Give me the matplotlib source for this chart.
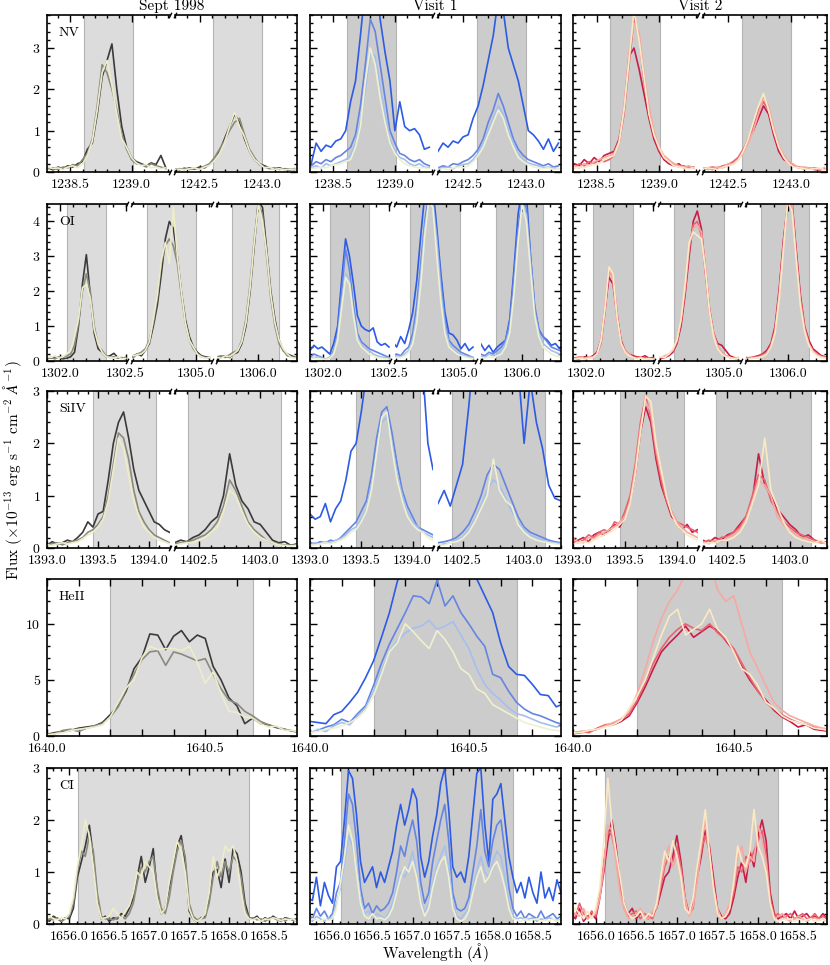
import numpy as np
import matplotlib
matplotlib.use("Agg")
import matplotlib.pyplot as plt
from matplotlib.ticker import MultipleLocator, FixedLocator, FormatStrFormatter

plt.rcParams["font.family"] = "serif"
plt.rcParams["font.serif"] = ["cmr10"]
plt.rcParams["mathtext.fontset"] = "cm"
plt.rcParams["axes.formatter.use_mathtext"] = True
plt.rcParams["font.size"] = 10

# ---- spectra (flux in 1e-13 erg/s/cm2/A) ----
# each ion/epoch: list over wavelength segments, each a list of series
NV_SEPT = [
    [[0.10,0.05,0.12,0.08,0.15,0.12,0.20,0.25,0.55,0.70,1.40,2.30,2.70,3.10,2.00,1.10,0.60,0.35,0.25,0.20,0.15,0.22,0.18,0.40,0.10],
     [0.08,0.10,0.06,0.12,0.10,0.18,0.15,0.30,0.45,0.80,1.60,2.60,2.40,2.00,1.50,0.90,0.55,0.30,0.20,0.18,0.12,0.20,0.15,0.12,0.08],
     [0.12,0.08,0.10,0.06,0.12,0.15,0.10,0.20,0.40,0.75,1.50,2.40,2.70,2.10,1.40,0.80,0.60,0.35,0.22,0.15,0.18,0.10,0.12,0.08,0.10]],
    [[0.05,0.08,0.06,0.10,0.07,0.12,0.10,0.18,0.30,0.50,0.80,1.10,1.40,1.20,0.80,0.50,0.30,0.20,0.15,0.10,0.08,0.10,0.06,0.05,0.08],
     [0.08,0.05,0.10,0.06,0.09,0.08,0.14,0.20,0.35,0.55,0.75,1.0,1.2,1.3,0.9,0.55,0.35,0.18,0.12,0.08,0.10,0.06,0.08,0.07,0.05],
     [0.06,0.07,0.05,0.08,0.10,0.06,0.12,0.16,0.28,0.45,0.70,1.1,1.45,1.1,0.85,0.5,0.3,0.2,0.1,0.12,0.06,0.08,0.05,0.06,0.07]],
]
NV_V1 = [
    [[0.2,0.7,0.5,0.65,0.6,0.75,0.8,1.0,1.7,2.2,3.3,4.5,5.0,4.8,3.7,2.9,2.2,1.0,1.7,1.1,1.0,1.05,0.9,0.55,0.6],
     [0.15,0.25,0.2,0.3,0.25,0.35,0.4,0.5,0.6,0.9,1.6,2.6,3.7,3.4,2.6,1.8,1.0,0.7,0.45,0.4,0.3,0.25,0.3,0.2,0.15],
     [0.1,0.15,0.1,0.2,0.15,0.2,0.25,0.3,0.4,0.7,1.2,2.0,2.9,2.8,2.1,1.4,0.8,0.5,0.35,0.3,0.2,0.15,0.2,0.12,0.1],
     [0.08,0.1,0.12,0.1,0.15,0.18,0.2,0.25,0.3,0.6,1.1,2.2,3.0,2.6,1.8,1.2,0.7,0.45,0.3,0.2,0.15,0.12,0.1,0.1,0.08]],
    [[0.5,0.7,0.6,0.75,0.7,0.85,0.9,1.3,1.6,2.1,2.7,3.3,4.2,3.9,3.0,2.6,2.2,1.6,1.0,0.9,0.75,0.55,0.8,0.5,0.7],
     [0.1,0.15,0.12,0.2,0.18,0.25,0.3,0.4,0.55,0.8,1.2,1.5,1.9,1.6,1.2,0.8,0.55,0.4,0.3,0.25,0.2,0.15,0.2,0.12,0.15],
     [0.08,0.1,0.12,0.08,0.15,0.18,0.2,0.3,0.45,0.7,1.0,1.3,1.6,1.4,1.0,0.7,0.45,0.3,0.22,0.18,0.15,0.1,0.12,0.1,0.08],
     [0.05,0.08,0.06,0.1,0.12,0.1,0.15,0.25,0.4,0.6,0.9,1.2,1.5,1.3,0.9,0.6,0.35,0.25,0.18,0.12,0.1,0.08,0.1,0.06,0.08]],
]
NV_V2 = [
    [[0.2,0.15,0.3,0.2,0.35,0.25,0.4,0.45,0.5,0.8,1.5,2.8,3.0,2.5,1.9,1.3,0.8,0.5,0.3,0.2,0.15,0.2,0.1,0.12,0.1],
     [0.1,0.2,0.15,0.25,0.2,0.3,0.25,0.3,0.4,0.7,1.4,2.6,3.7,3.3,2.2,1.5,0.9,0.55,0.35,0.25,0.2,0.12,0.15,0.1,0.12],
     [0.15,0.1,0.2,0.15,0.25,0.3,0.35,0.4,0.45,0.75,1.6,2.9,3.6,3.4,2.4,1.6,1.0,0.6,0.4,0.3,0.2,0.15,0.12,0.15,0.1],
     [0.1,0.12,0.1,0.15,0.18,0.2,0.3,0.35,0.4,0.7,1.5,2.7,3.9,3.2,2.3,1.4,0.9,0.6,0.35,0.25,0.15,0.12,0.1,0.08,0.1]],
    [[0.05,0.08,0.06,0.1,0.12,0.15,0.2,0.3,0.5,0.8,1.0,1.3,1.6,1.4,0.9,0.5,0.3,0.25,0.15,0.1,0.08,0.1,0.06,0.05,0.08],
     [0.08,0.1,0.12,0.1,0.15,0.18,0.25,0.35,0.55,0.75,1.1,1.5,1.7,1.5,1.0,0.6,0.35,0.2,0.15,0.12,0.1,0.08,0.1,0.08,0.06],
     [0.1,0.06,0.08,0.12,0.1,0.2,0.2,0.3,0.45,0.7,1.0,1.4,1.8,1.6,1.1,0.65,0.4,0.25,0.18,0.1,0.12,0.1,0.08,0.06,0.1],
     [0.06,0.1,0.08,0.06,0.12,0.15,0.18,0.28,0.5,0.8,1.2,1.6,1.9,1.5,1.0,0.6,0.35,0.2,0.12,0.1,0.08,0.06,0.08,0.1,0.05]],
]

OI_SEPT = [
    [[0.1,0.08,0.12,0.1,0.06,0.08,0.12,0.25,1.0,2.2,3.05,1.9,0.8,0.35,0.25,0.12,0.15,0.22,0.1,0.08,0.1],
     [0.08,0.1,0.06,0.12,0.1,0.15,0.2,0.45,1.1,2.0,2.5,2.0,1.0,0.45,0.3,0.15,0.1,0.12,0.08,0.1,0.06],
     [0.12,0.1,0.15,0.08,0.12,0.2,0.3,0.7,1.2,2.1,2.2,1.8,0.9,0.5,0.25,0.12,0.1,0.08,0.12,0.06,0.08]],
    [[0.1,0.15,0.2,0.15,0.3,0.5,1.0,1.6,2.5,3.5,4.0,3.8,3.0,2.0,1.2,0.7,0.4,0.25,0.15,0.12,0.1],
     [0.12,0.1,0.2,0.25,0.35,0.6,1.1,1.8,2.8,3.3,3.5,3.3,2.8,1.9,1.1,0.6,0.35,0.2,0.12,0.1,0.08],
     [0.2,0.15,0.18,0.2,0.3,0.55,1.2,1.9,2.9,3.4,2.8,4.4,3.0,2.0,1.1,0.6,0.4,0.2,0.12,0.08,0.1]],
    [[0.1,0.12,0.15,0.1,0.2,0.25,0.5,1.0,2.0,3.3,4.6,4.4,3.2,2.0,1.2,0.6,0.3,0.2,0.15,0.1,0.12],
     [0.12,0.15,0.1,0.18,0.25,0.3,0.6,1.2,2.2,3.5,4.5,4.2,3.0,1.8,1.0,0.5,0.3,0.15,0.12,0.1,0.08],
     [0.1,0.08,0.15,0.12,0.2,0.3,0.55,1.1,2.1,3.4,4.5,4.0,3.1,1.9,1.1,0.6,0.35,0.2,0.1,0.08,0.1]],
]
OI_V1 = [
    [[0.3,0.45,0.35,0.4,0.3,0.2,0.5,1.0,2.3,3.5,3.0,2.2,1.3,1.0,0.9,0.85,0.95,0.55,0.45,0.5,0.4],
     [0.1,0.2,0.15,0.1,0.05,0.1,0.3,0.8,2.0,3.2,2.6,1.6,0.8,0.55,0.45,0.35,0.3,0.25,0.2,0.15,0.1],
     [0.08,0.1,0.12,0.08,0.05,0.1,0.25,0.7,1.7,2.5,2.3,1.4,0.7,0.45,0.35,0.3,0.2,0.15,0.12,0.1,0.08],
     [0.05,0.08,0.05,0.06,0.04,0.08,0.2,0.6,1.5,2.4,2.2,1.3,0.6,0.4,0.3,0.2,0.15,0.1,0.08,0.06,0.05]],
    [[0.55,0.4,0.7,0.5,0.9,1.4,2.3,3.6,4.8,5.5,5.0,3.8,2.5,1.4,0.8,0.75,0.6,0.35,0.5,0.3,0.4],
     [0.15,0.2,0.15,0.3,0.4,0.8,1.6,2.8,4.0,4.8,4.6,3.6,2.3,1.2,0.6,0.45,0.35,0.25,0.2,0.15,0.1],
     [0.1,0.15,0.12,0.2,0.3,0.6,1.3,2.5,3.8,4.6,4.5,3.4,2.0,1.0,0.5,0.35,0.25,0.2,0.15,0.12,0.1],
     [0.08,0.1,0.1,0.15,0.25,0.5,1.1,2.2,3.6,4.6,4.4,3.0,1.7,0.8,0.4,0.3,0.2,0.15,0.12,0.08,0.06]],
    [[0.5,0.3,0.45,0.25,0.4,0.5,0.6,1.2,2.6,4.2,5.0,4.8,3.0,1.5,0.9,0.7,0.6,0.45,0.5,0.35,0.4],
     [0.2,0.15,0.25,0.2,0.3,0.4,0.6,1.1,2.4,3.8,4.6,4.4,3.0,1.6,0.9,0.7,0.55,0.4,0.35,0.3,0.25],
     [0.15,0.1,0.2,0.15,0.2,0.3,0.5,0.9,2.0,3.5,4.5,4.2,2.8,1.4,0.8,0.5,0.4,0.3,0.25,0.2,0.2],
     [0.1,0.08,0.12,0.1,0.15,0.2,0.4,0.8,1.9,3.4,4.5,4.0,2.6,1.3,0.7,0.4,0.3,0.2,0.15,0.12,0.1]],
]
OI_V2 = [
    [[0.1,0.05,0.08,0.12,0.1,0.15,0.25,0.6,1.5,2.4,2.2,1.3,0.6,0.3,0.2,0.15,0.12,0.1,0.15,0.08,0.1],
     [0.08,0.1,0.12,0.06,0.1,0.12,0.2,0.5,1.4,2.6,2.4,1.4,0.5,0.25,0.18,0.12,0.1,0.08,0.1,0.06,0.08],
     [0.06,0.08,0.1,0.08,0.12,0.1,0.18,0.55,1.6,2.7,2.3,1.2,0.55,0.3,0.2,0.1,0.08,0.1,0.06,0.08,0.05],
     [0.05,0.06,0.08,0.05,0.08,0.1,0.2,0.6,1.5,2.7,2.5,1.3,0.5,0.25,0.15,0.1,0.06,0.08,0.05,0.06,0.05]],
    [[0.05,0.08,0.1,0.15,0.25,0.5,1.0,1.9,3.0,4.0,4.3,3.8,2.6,1.5,0.8,0.5,0.45,0.3,0.15,0.1,0.08],
     [0.06,0.1,0.12,0.18,0.3,0.55,1.1,2.0,3.2,3.9,4.0,3.6,2.5,1.4,0.8,0.4,0.25,0.15,0.1,0.08,0.06],
     [0.08,0.1,0.15,0.2,0.3,0.6,1.2,2.1,3.3,3.8,3.9,3.7,2.7,1.5,0.8,0.4,0.25,0.15,0.1,0.08,0.1],
     [0.1,0.12,0.1,0.2,0.35,0.6,1.2,2.2,3.4,3.7,3.6,3.5,2.6,1.4,0.7,0.35,0.2,0.12,0.1,0.06,0.08]],
    [[0.1,0.08,0.12,0.15,0.2,0.3,0.5,1.0,2.1,3.5,4.5,4.6,3.2,1.9,1.0,0.6,0.35,0.25,0.15,0.12,0.1],
     [0.08,0.1,0.1,0.12,0.18,0.25,0.45,0.9,2.0,3.4,4.5,4.4,3.1,1.8,1.0,0.5,0.3,0.2,0.12,0.1,0.08],
     [0.06,0.08,0.1,0.1,0.15,0.2,0.4,0.85,1.9,3.3,4.6,4.5,3.0,1.7,0.9,0.5,0.28,0.18,0.12,0.1,0.06],
     [0.05,0.06,0.08,0.1,0.12,0.2,0.4,0.8,1.8,3.2,4.6,4.3,2.9,1.6,0.85,0.45,0.25,0.15,0.1,0.08,0.06]],
]

SIIV_SEPT = [
    [[0.05,0.12,0.08,0.1,0.15,0.12,0.2,0.3,0.5,0.4,0.65,0.7,1.3,2.0,2.4,2.6,2.1,1.5,1.1,0.9,0.7,0.5,0.45,0.35,0.3],
     [0.05,0.08,0.1,0.06,0.1,0.12,0.15,0.2,0.3,0.35,0.45,0.6,1.0,1.6,2.2,2.1,1.7,1.1,0.7,0.5,0.35,0.25,0.2,0.15,0.1],
     [0.06,0.05,0.08,0.1,0.08,0.1,0.12,0.18,0.25,0.3,0.4,0.55,0.9,1.5,2.1,1.9,1.4,0.9,0.6,0.4,0.3,0.2,0.15,0.12,0.08]],
    [[0.1,0.15,0.12,0.2,0.25,0.35,0.5,0.6,1.0,1.8,1.2,0.9,0.75,0.5,0.45,0.3,0.15,0.1,0.12,0.05,0.08],
     [0.08,0.1,0.12,0.15,0.2,0.25,0.35,0.5,0.8,1.3,1.1,0.8,0.5,0.35,0.25,0.15,0.1,0.08,0.06,0.05,0.06],
     [0.05,0.08,0.1,0.1,0.15,0.2,0.3,0.4,0.7,1.1,1.0,0.7,0.45,0.3,0.2,0.15,0.1,0.06,0.05,0.04,0.05]],
]
SIIV_V1 = [
    [[0.65,0.55,0.6,0.85,0.5,0.75,0.9,1.3,1.85,2.0,2.6,3.3,4.5,5.5,6.0,6.5,6.2,5.8,5.5,5.0,4.5,4.0,3.4,2.0,1.5],
     [0.1,0.08,0.12,0.1,0.15,0.12,0.2,0.3,0.4,0.5,0.7,0.9,1.4,2.1,2.6,2.7,2.2,1.6,1.1,0.8,0.6,0.4,0.35,0.3,0.25],
     [0.05,0.1,0.08,0.12,0.1,0.15,0.18,0.25,0.35,0.4,0.55,0.75,1.2,1.8,2.4,2.5,2.0,1.4,1.0,0.7,0.5,0.4,0.3,0.25,0.2],
     [0.05,0.06,0.08,0.1,0.08,0.12,0.15,0.2,0.3,0.35,0.5,0.7,1.1,1.8,2.5,2.6,1.9,1.3,0.9,0.6,0.45,0.35,0.3,0.2,0.15]],
    [[0.85,1.1,0.8,1.2,1.6,2.7,4.0,5.0,6.0,6.5,6.0,5.5,4.5,3.5,2.0,3.2,2.4,1.9,1.2,0.95,0.9],
     [0.1,0.12,0.15,0.2,0.3,0.45,0.7,1.0,1.4,1.6,1.5,1.2,0.9,0.6,0.4,0.3,0.25,0.2,0.15,0.12,0.1],
     [0.05,0.08,0.1,0.15,0.2,0.35,0.55,0.8,1.1,1.3,1.2,0.95,0.7,0.5,0.35,0.25,0.2,0.15,0.12,0.1,0.08],
     [0.06,0.05,0.1,0.12,0.18,0.3,0.5,0.75,1.0,1.7,1.1,0.9,0.8,0.45,0.3,0.2,0.15,0.12,0.1,0.08,0.06]],
]
SIIV_V2 = [
    [[0.1,0.15,0.2,0.12,0.25,0.3,0.25,0.35,0.45,0.4,0.6,0.9,1.4,2.2,2.7,2.4,1.7,1.2,0.9,0.6,0.5,0.35,0.45,0.3,0.35],
     [0.2,0.1,0.15,0.25,0.2,0.3,0.35,0.3,0.5,0.45,0.7,1.0,1.6,2.4,2.9,2.5,1.8,1.3,0.9,0.7,0.5,0.45,0.4,0.35,0.3],
     [0.15,0.12,0.1,0.2,0.18,0.25,0.3,0.35,0.4,0.5,0.6,0.9,1.5,2.3,2.8,2.6,1.9,1.4,1.0,0.7,0.5,0.4,0.3,0.25,0.2],
     [0.08,0.1,0.12,0.1,0.15,0.2,0.25,0.3,0.35,0.45,0.55,0.85,1.4,2.2,2.9,2.8,2.0,1.5,1.0,0.65,0.45,0.35,0.25,0.2,0.15]],
    [[0.15,0.1,0.2,0.15,0.25,0.3,0.45,0.6,0.9,1.8,1.2,1.0,0.75,0.6,0.45,0.35,0.2,0.25,0.15,0.1,0.12],
     [0.1,0.15,0.12,0.2,0.22,0.3,0.4,0.6,1.0,1.4,1.3,0.9,0.7,0.5,0.4,0.3,0.25,0.2,0.15,0.12,0.1],
     [0.12,0.08,0.15,0.12,0.2,0.25,0.35,0.55,0.9,1.3,1.2,1.0,0.6,0.45,0.35,0.25,0.2,0.15,0.12,0.1,0.08],
     [0.08,0.1,0.1,0.15,0.15,0.2,0.3,0.5,0.85,1.2,2.1,1.1,0.8,0.5,0.3,0.2,0.15,0.12,0.1,0.15,0.08]],
]

HEII_SEPT = [
    [[0.15,0.3,0.4,0.5,0.7,0.8,0.9,1.2,1.9,2.7,4.0,6.0,7.0,9.1,9.0,7.7,8.9,9.4,8.4,9.0,8.7,6.2,5.0,3.4,2.7,1.1,1.6,1.1,1.0,0.75,0.6,0.45,0.3],
     [0.1,0.2,0.5,0.6,0.4,0.7,0.9,1.1,1.7,2.6,4.2,5.5,6.8,7.5,7.6,6.3,7.5,7.3,7.0,6.7,6.9,5.5,4.2,3.2,2.9,2.2,1.8,1.3,1.0,0.8,0.6,0.45,0.3],
     [0.1,0.2,0.3,0.5,0.6,0.7,0.8,1.0,1.7,3.0,4.3,5.0,7.0,8.0,7.7,7.8,7.8,7.6,8.0,6.6,4.7,5.7,3.8,2.2,2.1,1.7,1.6,1.1,0.8,0.9,0.5,0.5,0.3]],
]
HEII_V1 = [
    [[1.3,1.2,1.1,1.9,2.2,3.0,3.9,5.2,6.7,8.8,11.0,13.8,15.5,17.0,18.0,18.5,18.3,17.8,17.0,16.2,15.5,14.0,12.5,11.0,8.3,6.2,5.5,5.4,4.6,3.7,3.6,2.6,2.9],
     [0.3,0.5,0.8,1.0,1.5,1.2,2.0,2.7,4.5,6.5,8.2,9.6,11.0,12.5,12.4,11.8,13.9,11.6,12.5,11.0,10.0,8.9,8.0,5.5,5.2,4.0,3.0,2.4,2.0,1.8,1.5,1.2,1.0],
     [0.2,0.6,0.4,0.9,1.2,1.0,1.8,2.5,4.0,5.8,7.5,8.5,9.2,9.6,9.8,10.3,9.5,9.8,10.2,9.0,7.8,6.0,4.6,3.8,3.2,2.5,2.0,1.8,1.5,1.2,1.0,0.8,1.0],
     [0.3,0.4,0.6,0.7,0.9,1.2,1.6,2.3,3.6,5.5,7.5,8.3,10.0,9.3,8.5,7.8,9.4,8.6,7.5,6.0,5.5,4.2,3.8,2.8,2.4,2.0,1.6,1.2,1.0,0.8,0.6,0.5,0.4]],
]
HEII_V2 = [
    [[0.2,0.3,0.4,0.6,0.9,1.0,1.3,1.8,3.0,4.4,6.0,7.5,8.3,9.0,9.8,8.8,9.3,9.8,9.4,8.5,7.6,6.2,5.0,4.0,3.2,2.3,1.7,1.3,0.8,1.0,0.6,0.5,0.4],
     [0.3,0.4,0.3,0.7,1.0,1.1,1.5,2.0,3.2,4.8,6.5,7.8,8.8,9.5,10.0,9.6,9.4,10.0,9.2,8.6,7.8,6.5,5.2,4.0,3.0,2.4,1.9,1.5,1.2,1.0,0.8,0.6,0.5],
     [0.2,0.4,0.5,0.6,0.9,1.2,1.5,2.2,3.8,6.0,8.5,10.5,12.0,13.0,14.5,15.5,14.8,15.5,13.0,12.0,12.5,10.0,7.5,6.0,4.5,3.0,2.3,1.8,1.5,1.2,0.9,0.7,0.6],
     [0.3,0.3,0.5,0.6,0.8,1.0,1.4,2.5,3.6,5.0,7.0,9.0,10.7,11.3,9.0,9.5,10.0,11.3,9.5,8.8,7.5,6.0,5.5,4.5,3.0,2.5,1.8,1.4,1.2,1.0,0.7,0.6,0.5]],
]

CI_SEPT = [
    [[0.1,0.05,0.15,0.1,0.05,0.12,0.1,0.3, 0.9,1.2,1.5,1.9,1.3,0.5,0.1,0.15,
      0.05,0.12,0.1,0.2,0.15,0.3,0.5,0.9, 1.3,0.8,1.1,1.45,0.6,0.2,0.3,0.7,
      1.1,1.5,1.7,1.2,0.25,0.1,0.05,0.12, 0.15,0.5,1.0,1.05,0.7,1.25,0.8,1.45,
      1.35,1.0,0.4,0.12,0.1,0.15,0.05,0.12, 0.08,0.15,0.1,0.05,0.12,0.1,0.08,0.1],
     [0.05,0.1,0.08,0.12,0.05,0.1,0.15,0.4, 1.0,1.4,1.3,1.7,1.4,0.6,0.15,0.1,
      0.1,0.08,0.12,0.15,0.1,0.2,0.4,0.8, 1.1,1.0,1.2,1.3,0.7,0.3,0.2,0.5,
      1.0,1.4,1.6,1.3,0.4,0.15,0.08,0.1, 0.12,0.4,0.9,1.2,0.9,1.2,1.0,1.3,
      1.2,0.9,0.3,0.1,0.12,0.08,0.1,0.05, 0.1,0.12,0.08,0.1,0.06,0.1,0.08,0.05],
     [0.12,0.15,0.1,0.08,0.12,0.1,0.2,0.5, 1.1,1.5,2.0,1.7,1.1,0.4,0.1,0.12,
      0.15,0.3,0.2,0.1,0.25,0.35,0.6,1.0, 0.9,1.2,1.1,1.0,0.5,0.2,0.3,0.8,
      1.2,1.6,1.4,1.0,0.3,0.1,0.05,0.1, 0.2,0.6,1.3,0.9,1.1,1.5,1.4,1.5,
      1.2,0.6,0.2,0.1,0.08,0.12,0.05,0.1, 0.08,0.12,0.1,0.06,0.1,0.08,0.1,0.05]],
]
CI_V1 = [
    [[0.5,0.45,0.9,0.35,0.8,0.55,0.4,1.1, 1.2,2.0,2.95,2.8,2.1,1.2,0.8,0.95,
      1.1,0.7,1.0,0.8,1.1,1.4,1.9,2.3, 1.9,2.2,2.6,2.4,1.3,0.9,1.2,1.7,
      2.1,2.7,3.0,2.2,1.1,0.9,1.0,0.8, 1.3,2.1,2.9,3.0,1.9,1.2,2.4,2.5,
      2.7,2.0,1.3,0.9,0.6,0.8,0.5,0.9, 0.6,0.4,1.0,0.5,0.7,0.45,0.85,0.6],
     [0.2,0.1,0.3,0.15,0.25,0.1,0.2,0.6, 0.8,1.6,2.5,2.3,1.6,0.7,0.3,0.4,
      0.2,0.35,0.25,0.3,0.4,0.6,1.0,1.5, 1.3,1.7,2.0,1.6,0.8,0.4,0.6,1.2,
      1.6,2.0,2.3,1.6,0.6,0.3,0.25,0.3, 0.5,1.0,1.5,2.2,1.4,1.1,1.6,1.9,
      2.0,1.4,0.7,0.3,0.15,0.25,0.1,0.2, 0.15,0.1,0.25,0.1,0.15,0.2,0.1,0.15],
     [0.1,0.05,0.15,0.1,0.05,0.12,0.1,0.4, 0.7,1.2,1.7,1.5,1.1,0.5,0.2,0.25,
      0.1,0.2,0.15,0.1,0.2,0.4,0.7,1.0, 0.9,1.1,1.4,1.0,0.5,0.2,0.4,0.8,
      1.1,1.3,1.5,1.1,0.4,0.15,0.1,0.2, 0.3,0.7,1.0,1.3,1.0,0.9,1.2,1.4,
      1.3,0.9,0.4,0.15,0.1,0.12,0.08,0.1, 0.12,0.05,0.1,0.08,0.12,0.1,0.05,0.1],
     [0.05,0.1,0.08,0.05,0.1,0.06,0.1,0.3, 0.8,1.3,1.9,1.6,1.0,0.4,0.15,0.1,
      0.2,0.1,0.12,0.08,0.15,0.3,0.6,0.9, 1.1,1.0,1.2,0.9,0.4,0.15,0.3,0.7,
      1.0,1.2,1.3,0.9,0.3,0.1,0.05,0.1, 0.25,0.6,0.9,1.1,0.8,0.9,1.1,1.2,
      1.0,0.7,0.3,0.1,0.08,0.05,0.1,0.06, 0.08,0.1,0.05,0.08,0.06,0.1,0.05,0.08]],
]
CI_V2 = [
    [[0.2,0.1,0.3,0.05,0.15,0.2,0.1,0.5, 1.0,1.6,2.0,1.5,0.8,0.4,0.2,0.3,
      0.1,0.2,0.15,0.1,0.2,0.3,0.6,0.9, 1.0,1.3,1.7,1.2,0.5,0.2,0.4,0.9,
      1.3,1.8,1.5,0.9,0.3,0.15,0.1,0.2, 0.5,0.9,1.2,0.8,1.4,1.1,1.7,2.0,
      1.6,0.6,0.2,0.1,0.15,0.2,0.1,0.25, 0.1,0.15,0.2,0.1,0.15,0.1,0.2,0.1],
     [0.3,0.15,0.4,0.2,0.1,0.25,0.15,0.6, 1.2,1.8,1.7,1.3,0.7,0.3,0.15,0.2,
      0.25,0.1,0.2,0.15,0.1,0.35,0.7,1.1, 1.3,1.2,1.5,1.1,0.4,0.2,0.3,1.0,
      1.4,1.7,1.4,0.8,0.2,0.1,0.15,0.3, 0.6,1.1,1.0,1.3,1.2,1.4,1.6,1.8,
      1.3,0.5,0.15,0.2,0.1,0.15,0.2,0.1, 0.15,0.2,0.1,0.12,0.2,0.1,0.15,0.1],
     [0.1,0.2,0.15,0.3,0.1,0.15,0.2,0.5, 1.1,1.9,1.8,1.2,0.6,0.3,0.1,0.15,
      0.2,0.3,0.15,0.1,0.25,0.3,0.8,1.2, 1.5,1.1,1.3,1.0,0.5,0.15,0.35,0.8,
      1.5,2.0,1.3,0.7,0.3,0.1,0.2,0.4, 0.7,1.3,1.5,1.0,1.3,1.2,1.9,1.6,
      1.2,0.4,0.1,0.15,0.2,0.1,0.05,0.1, 0.15,0.1,0.05,0.1,0.12,0.08,0.1,0.05],
     [0.15,0.3,0.2,0.1,0.25,0.1,0.3,0.7, 1.6,2.8,1.9,1.4,0.9,0.4,0.2,0.1,
      0.15,0.25,0.1,0.2,0.15,0.4,0.9,1.4, 1.2,1.6,1.3,0.9,0.3,0.2,0.5,1.1,
      1.6,2.2,1.4,0.7,0.2,0.1,0.15,0.3, 0.8,1.5,1.2,1.1,1.4,2.2,1.5,1.3,
      1.0,0.4,0.1,0.05,0.1,0.08,0.1,0.05, 0.1,0.06,0.08,0.1,0.05,0.08,0.1,0.06]],
]

IONS = ["NV", "OI", "SiIV", "HeII", "CI"]
EPOCHS = ["Sept 1998", "Visit 1", "Visit 2"]
SPECTRA = [
    [NV_SEPT, NV_V1, NV_V2],
    [OI_SEPT, OI_V1, OI_V2],
    [SIIV_SEPT, SIIV_V1, SIIV_V2],
    [HEII_SEPT, HEII_V1, HEII_V2],
    [CI_SEPT, CI_V1, CI_V2],
]
# first/last sampled wavelength of each segment
SAMPLE_SPANS = [
    [(1238.32, 1239.28), (1242.30, 1243.26)],
    [(1301.90, 1302.50), (1304.50, 1305.10), (1305.70, 1306.30)],
    [(1393.00, 1394.20), (1402.30, 1403.30)],
    [(1640.00, 1640.80)],
    [(1655.70, 1658.85)],
]
XLIMS = [
    [(1238.31, 1239.31), (1242.30, 1243.28)],
    [(1301.90, 1302.51), (1304.52, 1305.12), (1305.70, 1306.28)],
    [(1393.00, 1394.20), (1402.30, 1403.30)],
    [(1640.00, 1640.79)],
    [(1655.72, 1658.85)],
]
SHADE_SPANS = [
    [(1238.61, 1239.01), (1242.61, 1243.00)],
    [(1302.05, 1302.35), (1304.63, 1305.00), (1305.81, 1306.15)],
    [(1393.45, 1394.07), (1402.41, 1403.17)],
    [(1640.20, 1640.65)],
    [(1656.11, 1658.25)],
]
XTICKS = [
    [[1238.5, 1239.0], [1242.5, 1243.0]],
    [[1302.0, 1302.5], [1305.0], [1306.0]],
    [[1393.0, 1393.5, 1394.0], [1402.5, 1403.0]],
    [[1640.0, 1640.5]],
    [[1656.0, 1656.5, 1657.0, 1657.5, 1658.0, 1658.5]],
]
YTOP = [3.8, 4.5, 3.0, 14.0, 3.0]
YMAJOR = [1, 1, 1, 5, 1]
YMINOR = [0.2, 0.2, 0.2, 1, 0.2]

EPOCH_COLORS = [
    ["#3a3a3a", "#8a8a7e", "#eeedc8"],
    ["#2d5be3", "#6585e2", "#a6bfee", "#eef1cf"],
    ["#c81d4b", "#e8636f", "#f6a9a2", "#fbe9c4"],
]
SHADE_COLORS = ["#dcdcdc", "#cccccc", "#cccccc"]

# panel boxes in pixels
W, H = 830, 965
COL_PX = [(47, 297), (310, 561), (573, 827)]
ROW_PX = [(15, 172), (204, 361), (391, 548), (579, 736), (768, 924)]
GAP = 5

fig = plt.figure(figsize=(W / 100, H / 100), dpi=100)

brk = dict(marker=[(-0.5, -1), (0.5, 1)], markersize=4, linestyle="none",
           color="k", mec="k", mew=1.0, clip_on=False)

for r, ion in enumerate(IONS):
    top, bot = ROW_PX[r]
    nseg = len(XLIMS[r])
    for c in range(3):
        left, right = COL_PX[c]
        segw = (right - left - GAP * (nseg - 1)) / nseg
        for s in range(nseg):
            x0 = left + s * (segw + GAP)
            ax = fig.add_axes([x0 / W, 1 - bot / H, segw / W, (bot - top) / H])
            lo, hi = SHADE_SPANS[r][s]
            ax.axvspan(lo, hi, color=SHADE_COLORS[c], ec="#b4b4b4", lw=0.8, zorder=0)
            a, b = SAMPLE_SPANS[r][s]
            for k, flux in enumerate(SPECTRA[r][c][s]):
                wl = np.linspace(a, b, len(flux))
                ax.plot(wl, flux, color=EPOCH_COLORS[c][k], lw=1.2, zorder=2)
            ax.set_xlim(*XLIMS[r][s])
            ax.set_ylim(0, YTOP[r])

            ax.xaxis.set_major_locator(FixedLocator(XTICKS[r][s]))
            ax.xaxis.set_major_formatter(FormatStrFormatter("%.1f"))
            ax.xaxis.set_minor_locator(MultipleLocator(0.1))
            ax.yaxis.set_major_locator(MultipleLocator(YMAJOR[r]))
            ax.yaxis.set_minor_locator(MultipleLocator(YMINOR[r]))
            ax.tick_params(which="both", direction="in", top=True, bottom=True,
                           left=(s == 0), right=(s == nseg - 1),
                           labelleft=(s == 0 and c == 0), labelsize=10, width=1)
            ax.tick_params(which="major", length=5)
            ax.tick_params(which="minor", length=2.5)
            ax.tick_params(axis="x", which="major", pad=5)
            ax.tick_params(axis="y", which="major", pad=4.5)
            if ion == "HeII":
                ax.tick_params(axis="x", which="minor", length=5)
            for sp in ax.spines.values():
                sp.set_linewidth(1.2)
            if s < nseg - 1:
                ax.spines["right"].set_visible(False)
                ax.plot([1, 1], [0, 1], transform=ax.transAxes, **brk)
            if s > 0:
                ax.spines["left"].set_visible(False)
                ax.plot([0, 0], [0, 1], transform=ax.transAxes, **brk)
    fig.text((COL_PX[0][0] + 12) / W, 1 - (top + 18) / H, ion,
             ha="left", va="center", fontsize=10)

for c, name in enumerate(EPOCHS):
    fig.text((COL_PX[c][0] + COL_PX[c][1]) / 2 / W, 1 - 6 / H, name,
             ha="center", va="center", fontsize=11)

fig.text(13 / W, 1 - 470 / H,
         r"Flux ($\times10^{-13}$ erg s$^{-1}$ cm$^{-2}$ $\AA^{-1}$)",
         rotation=90, ha="center", va="center", fontsize=11)
fig.text(435 / W, 1 - 953 / H, r"Wavelength ($\AA$)",
         ha="center", va="center", fontsize=11)

fig.savefig("out.png", dpi=100)
